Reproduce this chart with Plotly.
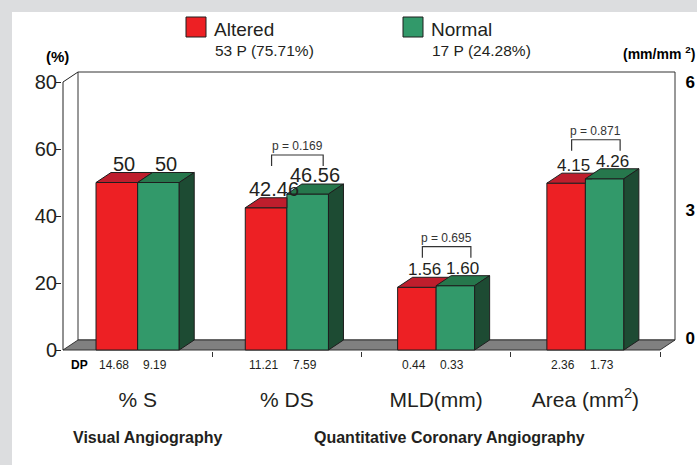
import plotly.graph_objects as go

# ---------------------------------------------------------------- data
categories = ["% S", "% DS", "MLD(mm)", "Area (mm<sup>2</sup>)"]
group_titles = ["Visual Angiography", "Quantitative Coronary Angiography"]
series_names = ["Altered", "Normal"]
series_counts = ["53 P (75.71%)", "17 P (24.28%)"]
altered = [50, 42.46, 1.56, 4.15]
normal = [50, 46.56, 1.60, 4.26]
dp_altered = [14.68, 11.21, 0.44, 2.36]
dp_normal = [9.19, 7.59, 0.33, 1.73]
p_values = [None, 0.169, 0.695, 0.871]
on_right_scale = [False, False, True, True]
left_ticks = [0, 20, 40, 60, 80]
right_ticks = [0, 3, 6]

# ---------------------------------------------------------------- layout
W, H = 697, 465
PL, PR, PT, PB = 62, 676, 71, 351          # plot area in pixels
FRONT_X0, FRONT_X1 = 63, 660               # front plane, x = 0 .. 4
FRONT_Y0, FRONT_Y80 = 350, 82              # front plane, y = 0 .. 80
DEPTH_PX_X, DEPTH_PX_Y = 15, 10            # oblique depth of the 3-D box
LEFT_MAX = 80
RIGHT_PER_LEFT = 1 / 12                    # mm, mm2 units per % unit

n_cat = len(categories)
sx = (FRONT_X1 - FRONT_X0) / n_cat
sy = (FRONT_Y0 - FRONT_Y80) / LEFT_MAX
x_range = [(PL - FRONT_X0) / sx, (PR - FRONT_X0) / sx]
y_range = [(FRONT_Y0 - PB) / sy, (FRONT_Y0 - PT) / sy]
y3_range = [v * RIGHT_PER_LEFT for v in y_range]
dx = DEPTH_PX_X / sx
dy = DEPTH_PX_Y / sy

RED, RED_TOP = "#ed2024", "#be1e2d"
GREEN, GREEN_TOP, GREEN_SIDE = "#32996a", "#26774c", "#1d4b33"
EDGE = "#1e1e1e"
INK = "#231f20"
FONT = "Liberation Sans, Arial, sans-serif"


def xp(px):
    return (px - PL) / (PR - PL)


def yp(py):
    return (PB - py) / (PB - PT)


def fmt(v):
    return f"{v:.0f}" if float(v).is_integer() else f"{v:.2f}"


def label(px, py, text, size, color=INK, xanchor="center"):
    return dict(x=xp(px), y=yp(py), xref="paper", yref="paper", text=text,
                showarrow=False, xanchor=xanchor, yanchor="middle",
                font=dict(size=size, color=color, family=FONT))


fig = go.Figure()
annotations = []


def poly(xs, ys, color, yaxis):
    fig.add_trace(go.Scatter(
        x=xs + [xs[0]], y=ys + [ys[0]], mode="lines", fill="toself",
        fillcolor=color, line=dict(color=EDGE, width=1),
        yaxis=yaxis, hoverinfo="skip", showlegend=False))


# ---------------------------------------------------------------- bars
for right in (False, True):
    idx = [i for i in range(n_cat) if on_right_scale[i] == right]
    yaxis = "y3" if right else "y"
    w = (38.5 if right else 41.6) / sx
    xs = [i + 0.5 for i in idx]
    fig.add_trace(go.Bar(
        x=xs, y=[altered[i] for i in idx], width=w, offset=-w,
        marker=dict(color=RED, line=dict(color=EDGE, width=1)),
        yaxis=yaxis, name=series_names[0], showlegend=False, hoverinfo="skip"))
    fig.add_trace(go.Bar(
        x=xs, y=[normal[i] for i in idx], width=w, offset=0,
        marker=dict(color=GREEN, line=dict(color=EDGE, width=1)),
        yaxis=yaxis, name=series_names[1], showlegend=False, hoverinfo="skip"))

    ddy = dy * (RIGHT_PER_LEFT if right else 1)
    s_ax = sy / (RIGHT_PER_LEFT if right else 1)
    for i in idx:
        c = i + 0.5
        a, g = altered[i], normal[i]
        # top of the Altered bar, trimmed where the Normal front face hides it
        if g <= a:
            px_ = [c - w, c - w + dx, c + dx, c]
            py_ = [a, a + ddy, a + ddy, a]
        elif g >= a + ddy:
            px_ = [c - w, c - w + dx, c, c]
            py_ = [a, a + ddy, a + ddy, a]
        else:
            xc = c + dx * (g - a) / ddy
            px_ = [c - w, c - w + dx, c + dx, xc, c, c]
            py_ = [a, a + ddy, a + ddy, g, g, a]
        poly(px_, py_, RED_TOP, yaxis)
        # top and side of the Normal bar
        poly([c, c + dx, c + w + dx, c + w], [g, g + ddy, g + ddy, g], GREEN_TOP, yaxis)
        poly([c + w, c + w + dx, c + w + dx, c + w], [0, ddy, g + ddy, g], GREEN_SIDE, yaxis)

        fs = 17 if right else 20
        for v, cx in ((a, c - w / 2), (g, c + w / 2)):
            annotations.append(dict(
                x=cx + dx / 2, y=v + ddy, xref="x", yref=yaxis, text=fmt(v),
                showarrow=False, yanchor="bottom", xanchor="center", yshift=-4,
                font=dict(size=fs, color=INK, family=FONT)))

        # significance bracket
        p = p_values[i]
        if p is not None:
            hi = max(a, g) + ddy
            leg = hi + 18 / s_ax
            top = leg + 11 / s_ax
            xl = c - w / 2 + dx / 2 - 2 / sx
            xr = c + w / 2 + dx / 2 + 8 / sx
            fig.add_trace(go.Scatter(
                x=[xl, xl, xr, xr], y=[leg, top, top, leg], mode="lines",
                line=dict(color="#333333", width=1.2), yaxis=yaxis,
                hoverinfo="skip", showlegend=False))
            annotations.append(dict(
                x=(xl + xr) / 2, y=top, xref="x", yref=yaxis, text=f"p = {p:.3f}",
                showarrow=False, yanchor="bottom", xanchor="center", yshift=0,
                font=dict(size=12, color="#333333", family=FONT)))

        # standard deviation row
        for v, cx in ((dp_altered[i], c - w / 2), (dp_normal[i], c + w / 2)):
            annotations.append(dict(
                x=cx - 3 / sx, y=yp(365), xref="x", yref="paper", text=f"{v:.2f}",
                showarrow=False, xanchor="center", yanchor="middle",
                font=dict(size=12, color=INK, family=FONT)))

annotations.append(label(79.5, 365, "<b>DP</b>", 12, "#000000"))

# ---------------------------------------------------------------- box frame
box = dict(xref="x", yref="y", layer="below")
shapes = [
    dict(type="rect", xref="paper", yref="paper", x0=xp(12), x1=xp(W + 5),
         y0=yp(H + 5), y1=yp(12), fillcolor="white", line=dict(width=0), layer="below"),
    # back wall
    dict(type="rect", x0=dx, x1=n_cat + dx, y0=dy, y1=LEFT_MAX + dy,
         fillcolor="white", line=dict(color="#333333", width=1), **box),
    # floor
    dict(type="path",
         path=f"M 0,0 L {dx},{dy} L {n_cat + dx},{dy} L {n_cat},0 Z",
         fillcolor="#808080", line=dict(color="#333333", width=1), **box),
    # left wall edges
    dict(type="line", x0=0, x1=0, y0=0, y1=LEFT_MAX,
         line=dict(color="#222222", width=1), **box),
    dict(type="line", x0=0, x1=dx, y0=LEFT_MAX, y1=LEFT_MAX + dy,
         line=dict(color="#222222", width=1), **box),
]

# ---------------------------------------------------------------- legend
for name, count, color, sq_x in zip(series_names, series_counts, [RED, GREEN], [186, 403]):
    shapes.append(dict(type="rect", xref="paper", yref="paper",
                       x0=xp(sq_x), x1=xp(sq_x + 20), y0=yp(37), y1=yp(17),
                       fillcolor=color, line=dict(color=EDGE, width=1)))
    annotations.append(label(sq_x + 26, 29, name, 19, xanchor="left"))
    annotations.append(label(sq_x + 27, 50, count, 15.5, xanchor="left"))

# axis units
annotations.append(label(57, 57, "<b>(%)</b>", 15, "#000000"))
annotations.append(label(697, 53, "<b>(mm/mm <sup>2</sup>)</b>", 14, "#000000",
                         xanchor="right"))

# group titles
for title, cx in zip(group_titles, [147, 450]):
    annotations.append(label(cx, 437, f"<b>{title}</b>", 16))

# right scale labels sit along the back wall
r_lo_px, r_hi_px = 338, 82
span = (right_ticks[-1] - right_ticks[0]) / (r_lo_px - r_hi_px)
y2_range = [right_ticks[0] - (PB - r_lo_px) * span, right_ticks[0] + (r_lo_px - PT) * span]
fig.add_trace(go.Scatter(x=[None], y=[None], yaxis="y2", mode="lines",
                         hoverinfo="skip", showlegend=False))

fig.update_layout(
    width=W, height=H,
    margin=dict(l=PL, r=W - PR, t=PT, b=H - PB, pad=0, autoexpand=False),
    paper_bgcolor="#dcdddf", plot_bgcolor="rgba(0,0,0,0)",
    barmode="overlay",
    font=dict(family=FONT, color=INK),
    showlegend=False,
    shapes=shapes,
    annotations=annotations,
    xaxis=dict(range=x_range, tickmode="array",
               tickvals=[i + 0.5 for i in range(n_cat)], ticktext=categories,
               ticks="", ticklabelstandoff=34,
               tickfont=dict(size=21, color=INK, family=FONT),
               minor=dict(tickmode="array", tickvals=list(range(1, n_cat + 1)),
                          ticks="outside", ticklen=5, tickcolor="#333333"),
               showline=False, showgrid=False, zeroline=False, fixedrange=True),
    yaxis=dict(range=y_range, tickmode="array", tickvals=left_ticks,
               ticks="outside", ticklen=5, tickcolor="#222222",
               ticklabelstandoff=-5,
               tickfont=dict(size=20, color=INK, family=FONT),
               showline=False, showgrid=False, zeroline=False, fixedrange=True),
    yaxis2=dict(range=y2_range, overlaying="y", side="right", anchor="x",
                tickmode="array", tickvals=right_ticks,
                ticks="outside", ticklen=5, tickcolor="rgba(0,0,0,0)",
                tickfont=dict(size=17, color="#000000", family=FONT, weight="bold"),
                showline=False, showgrid=False, zeroline=False, fixedrange=True),
    yaxis3=dict(range=y3_range, overlaying="y", visible=False, fixedrange=True),
)

fig.write_html("out.html")
